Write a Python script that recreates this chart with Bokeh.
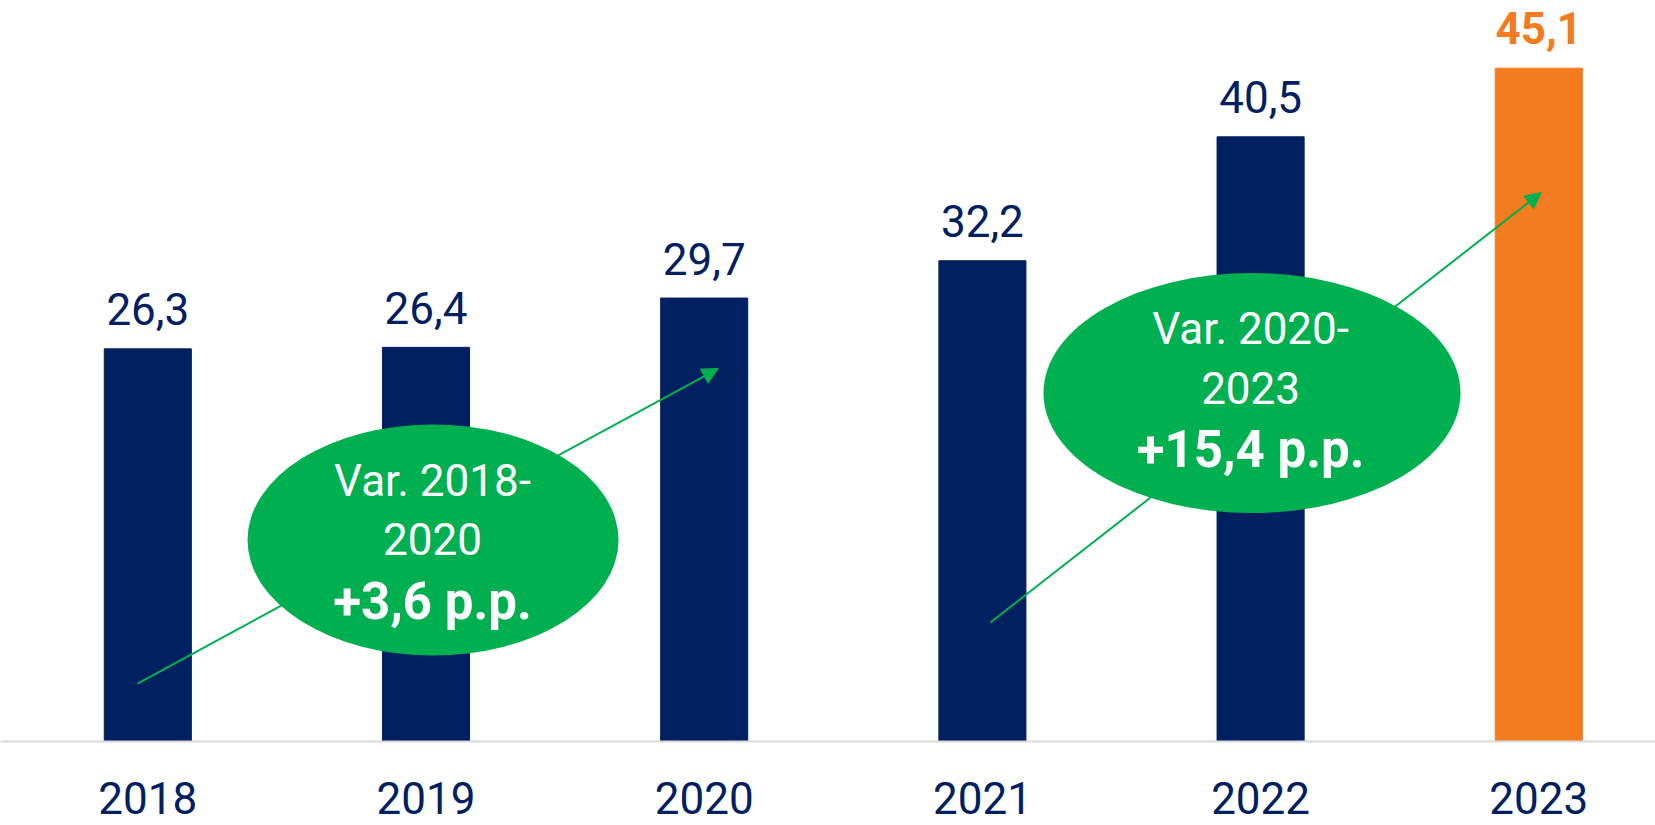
from bokeh.plotting import figure
from bokeh.models import Range1d, Span, Arrow, NormalHead, ColumnDataSource
from bokeh.core.properties import value
from bokeh.embed import file_html
from bokeh.resources import INLINE

# ---- data ----
years = ["2018", "2019", "2020", "2021", "2022", "2023"]
values = [26.3, 26.4, 29.7, 32.2, 40.5, 45.1]
var_line1 = ["Var. 2018-", "Var. 2020-"]
var_line2 = ["2020", "2023"]
var_line3 = ["+3,6 p.p.", "+15,4 p.p."]

NAVY = "#002060"
ORANGE = "#F37B20"
GREEN = "#00B050"
FONT = value("Roboto")

PX_PER_UNIT = 14.93  # vertical screen pixels per data unit (for offsets)
SHIFT = 15.5 / PX_PER_UNIT  # correction for SVG text baseline placement

xs = list(range(len(years)))
colors = [NAVY] * (len(years) - 1) + [ORANGE]
labels = [f"{v:.1f}".replace(".", ",") for v in values]

p = figure(width=1655, height=825, output_backend="svg", toolbar_location=None,
           x_range=Range1d(-0.5295, 5.4195), y_range=Range1d(-5.626, 49.63),
           x_axis_location=None, y_axis_location=None, min_border=0,
           outline_line_color=None, background_fill_color="white",
           border_fill_color="white")
p.xgrid.visible = False
p.ygrid.visible = False

src = ColumnDataSource(dict(x=xs, top=values, color=colors))

p.vbar(x="x", top="top", bottom=0, width=0.313, fill_color="color",
       line_color="color", source=src)

# baseline
p.add_layout(Span(location=0, dimension="width", line_color="#D9D9D9", line_width=2))

# value labels (last one bold orange)
n = len(years) - 1
p.text(x=xs[:n], y=[v + 24 / PX_PER_UNIT + SHIFT for v in values[:n]], text=labels[:n],
       text_font=FONT, text_font_size="44px", text_color=NAVY,
       text_align="center", text_baseline="alphabetic")
p.text(x=xs[n:], y=[v + 25 / PX_PER_UNIT + SHIFT for v in values[n:]], text=labels[n:],
       text_font=FONT, text_font_size="44px", text_font_style="bold",
       text_color=ORANGE, text_align="center", text_baseline="alphabetic")

# year labels
p.text(x=xs, y=[-72 / PX_PER_UNIT + SHIFT] * len(xs), text=years, text_font=FONT,
       text_font_size="44px", text_color=NAVY, text_align="center",
       text_baseline="alphabetic")

# arrows (over bars, under ellipses)
arrows = [((-0.037, 3.88), (2.051, 24.98)), ((3.029, 7.97), (5.009, 36.77))]
for (x0, y0), (x1, y1) in arrows:
    p.add_layout(Arrow(end=NormalHead(size=16, fill_color=GREEN, line_color=GREEN),
                       x_start=x0, y_start=y0, x_end=x1, y_end=y1,
                       line_color=GREEN, line_width=2))

# ellipses
ell = p.ellipse(x=[1.0252, 3.969], y=[13.50, 23.34], width=[371, 417], height=[231, 240],
                width_units="screen", height_units="screen",
                fill_color=GREEN, line_color=None)
ell.level = "overlay"

tx = [1.0234, 3.964]
r1 = p.text(x=tx, y=[16.41 + SHIFT, 26.59 + SHIFT], text=var_line1, text_font=FONT,
            text_font_size="44px", text_color="white", text_align="center",
            text_baseline="alphabetic")
r2 = p.text(x=tx, y=[12.53 + SHIFT, 22.64 + SHIFT], text=var_line2, text_font=FONT,
            text_font_size="44px", text_color="white", text_align="center",
            text_baseline="alphabetic")
r3 = p.text(x=tx, y=[8.31 + SHIFT, 18.49 + SHIFT], text=var_line3, text_font=FONT,
            text_font_size="51px", text_font_style="bold", text_color="white",
            text_align="center", text_baseline="alphabetic")
for r in (r1, r2, r3):
    r.level = "overlay"

open("out.html", "w").write(file_html(p, INLINE))
